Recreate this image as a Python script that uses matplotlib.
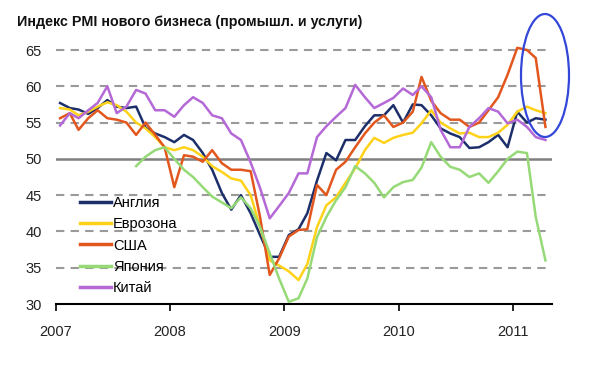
import matplotlib
matplotlib.use("Agg")
import matplotlib.pyplot as plt
from matplotlib.patches import Ellipse
import numpy as np
import pandas as pd

plt.rcParams['font.family'] = ['Liberation Sans', 'DejaVu Sans']

title = "Индекс PMI нового бизнеса (промышл. и услуги)"
months = pd.date_range("2007-01-01", "2011-04-01", freq="MS") + pd.Timedelta(days=14)

uk = [57.7, 57.0, 56.8, 56.2, 57.0, 58.1, 57.2, 57.0, 57.2, 54.3, 53.5, 53.0,
      52.3, 53.3, 52.6, 50.8, 48.5, 45.3, 43.0, 45.0, 42.5, 39.5, 36.5, 36.5,
      39.5, 40.3, 42.5, 47.0, 50.8, 49.8, 52.6, 52.6, 54.5, 56.0, 56.0, 57.4,
      55.0, 57.5, 57.4, 56.0, 54.2, 53.5, 53.0, 51.5, 51.6, 52.3, 53.3, 51.6,
      56.5, 55.0, 55.6, 55.4]
euro = [57.0, 56.8, 56.0, 56.5, 57.2, 57.8, 57.4, 56.5, 55.0, 54.2, 53.0, 51.6,
        51.2, 51.6, 51.2, 50.3, 49.0, 48.2, 47.3, 47.0, 45.0, 40.6, 36.0, 35.3,
        34.5, 33.3, 35.5, 40.6, 43.6, 44.7, 46.7, 48.7, 51.2, 52.9, 52.2, 52.9,
        53.3, 53.6, 54.9, 56.7, 55.0, 54.2, 53.5, 53.6, 53.0, 53.0, 53.6, 54.7,
        56.5, 57.2, 56.7, 56.3]
usa = [55.6, 56.3, 54.0, 55.6, 56.7, 55.6, 55.4, 55.0, 53.3, 55.0, 53.3, 51.6,
       46.1, 50.5, 50.3, 49.6, 51.2, 49.4, 48.5, 48.5, 48.3, 42.0, 34.0, 36.3,
       39.3, 40.2, 40.3, 46.4, 45.0, 48.5, 49.6, 51.6, 53.5, 55.0, 56.0, 54.4,
       55.0, 56.5, 61.3, 58.0, 56.3, 55.4, 55.4, 54.4, 55.0, 56.7, 58.5, 61.6,
       65.3, 65.0, 63.9, 54.4]
japan = [np.nan] * 8 + [
         49.0, 50.3, 51.2, 51.6,
         50.0, 48.5, 47.5, 46.1, 44.8, 44.0, 43.2, 44.7, 43.2, 40.6, 37.0, 33.5,
         30.3, 30.8, 33.5, 39.2, 42.0, 44.3, 46.1, 49.0, 48.0, 46.7, 44.7, 46.1,
         46.8, 47.1, 48.8, 52.3, 50.3, 48.9, 48.5, 47.5, 48.0, 46.7, 48.3, 50.0,
         51.0, 50.8, 42.0, 36.0]
china = [54.6, 56.3, 55.6, 56.7, 57.7, 60.0, 56.3, 57.2, 59.5, 59.0, 56.7, 56.7,
         55.8, 57.4, 58.5, 57.7, 56.0, 55.6, 53.5, 52.6, 49.5, 46.0, 41.8, 43.5,
         45.3, 48.0, 48.0, 53.0, 54.5, 55.8, 57.0, 60.2, 58.5, 57.0, 57.7, 58.4,
         59.7, 58.8, 60.0, 58.5, 54.0, 51.6, 51.6, 54.4, 55.6, 57.0, 56.5, 54.9,
         55.4, 54.4, 53.0, 52.6]

labels = ["Англия", "Еврозона", "США", "Япония", "Китай"]
series = [uk, euro, usa, japan, china]
colors = ["#1c2f6b", "#FFD21A", "#E2571E", "#96D977", "#B469D6"]
yticks = [30, 35, 40, 45, 50, 55, 60, 65]
xtick_years = [2007, 2008, 2009, 2010, 2011]

fig = plt.figure(figsize=(6.10, 3.69), dpi=100)
ax = fig.add_axes([55.7/610, 1 - 304/369, (551.7 - 55.7)/610, (304 - 35.5)/369])

x0 = pd.Timestamp("2007-01-01")
x1 = pd.Timestamp("2011-05-05")
ax.set_xlim(x0, x1)
ax.set_ylim(30, 67)

# gridlines
for y in yticks[1:]:
    if y == 50:
        ax.axhline(y, color="#808080", lw=1.8, zorder=1)
    else:
        ax.axhline(y, xmax=0.99, color="#9a9a9a", lw=1.5, ls=(0, (4, 3)), zorder=1)

for s, c, l in zip(series, colors, labels):
    ax.plot(months, s, color=c, lw=1.8, label=l, zorder=3)

for sp in ["top", "right", "left"]:
    ax.spines[sp].set_visible(False)
ax.spines["bottom"].set_linewidth(1.5)
ax.spines["bottom"].set_color("black")

ax.set_yticks(yticks)
ax.set_yticklabels([str(v) for v in yticks], fontsize=10.5, color="#222222")
ax.tick_params(axis="y", length=0, pad=10)
ax.set_xticks([pd.Timestamp(f"{y}-01-01") for y in xtick_years])
ax.set_xticklabels([str(y) for y in xtick_years], fontsize=10.5, color="#222222")
ax.tick_params(axis="x", length=5, width=1.2, direction="out", pad=10, color="black")

fig.text(17/610, 1 - 22/369, title, fontsize=10.3, fontweight="bold",
         va="center", ha="left", color="#111111")

leg = ax.legend(loc="upper left", bbox_to_anchor=(80/610, 1 - 196/369),
                bbox_transform=fig.transFigure, frameon=False, fontsize=10.5,
                handlelength=2.1, handletextpad=0.15, labelspacing=0.5,
                borderpad=0, borderaxespad=0)
for line in leg.get_lines():
    line.set_linewidth(2.5)

ell = Ellipse((545/610, 1 - 75.5/369), 48/610, 123/369, transform=fig.transFigure,
              fill=False, edgecolor="#3347d9", lw=1.6)
fig.patches.append(ell)

fig.savefig("out.png", dpi=100, facecolor="white")
